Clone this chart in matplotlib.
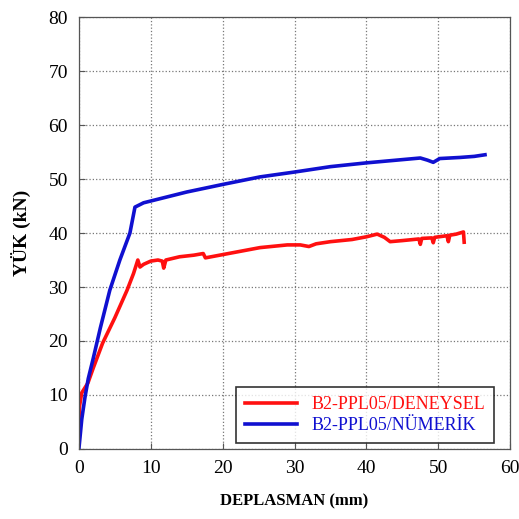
import matplotlib.pyplot as plt

plt.rcParams['font.family'] = ['Liberation Serif', 'DejaVu Serif']

# Measured load-displacement curve (experiment)
deney_x = [0, 0.1, 0.4, 1.25, 2.0, 3.3, 5.0, 6.7, 7.6, 8.2, 8.5, 9.0, 10.0, 11.0, 11.6, 11.8, 12.1,
           14.0, 16.0, 17.3, 17.6, 20.0, 22.0, 25.2, 29.0, 30.8, 32.0, 33.0, 35.0, 38.0, 40.0, 41.5, 42.5,
           43.3, 45.0, 47.3, 47.5, 47.7, 49.1, 49.3, 49.5, 51.2, 51.4, 51.6, 52.5, 53.5, 53.6]
deney_y = [4.8, 8.0, 10.4, 12.2, 15.0, 19.6, 24.3, 29.4, 32.5, 35.0, 33.7, 34.2, 34.8, 35.0, 34.8, 33.5, 35.0,
           35.6, 35.9, 36.2, 35.4, 36.0, 36.5, 37.3, 37.8, 37.8, 37.5, 38.0, 38.4, 38.8, 39.3, 39.8, 39.2,
           38.4, 38.6, 38.9, 37.9, 39.0, 39.1, 38.2, 39.2, 39.5, 38.4, 39.6, 39.8, 40.2, 38.3]

# Finite element result (numeric)
numerik_x = [0, 0.4, 0.85, 1.3, 2.0, 3.0, 4.3, 5.7, 7.1, 7.8, 9.0, 12.0, 15.0, 20.0, 25.2, 30.0,
             35.0, 40.0, 45.0, 47.5, 48.5, 49.3, 50.2, 53.0, 55.0, 56.5]
numerik_y = [0, 5.5, 9.6, 13.0, 16.8, 22.5, 29.4, 35.0, 40.0, 44.8, 45.6, 46.6, 47.6, 49.0, 50.4, 51.3,
             52.3, 53.0, 53.6, 53.9, 53.5, 53.1, 53.8, 54.0, 54.2, 54.5]

fig = plt.figure(figsize=(5.19, 5.19), dpi=100)
ax = fig.add_axes([0.152, 0.135, 0.831, 0.832])

ax.plot(deney_x, deney_y, color='#ff1010', lw=2.6, label='B2-PPL05/DENEYSEL', solid_joinstyle='round')
ax.plot(numerik_x, numerik_y, color='#1010d0', lw=2.6, label='B2-PPL05/NÜMERİK', solid_joinstyle='round')

ax.set_xlim(0, 60)
ax.set_ylim(0, 80)
ax.set_xticks(range(0, 61, 10))
ax.set_yticks(range(0, 81, 10))
ax.grid(True, linestyle=':', color='#777777', linewidth=0.9)
ax.tick_params(direction='in', labelsize=14, length=4, color='#555555', pad=8)
for s in ax.spines.values():
    s.set_color('#555555')
    s.set_linewidth(0.9)

ax.set_xlabel('DEPLASMAN (mm)', fontsize=12, fontweight='bold', labelpad=12)
ax.set_ylabel('YÜK (kN)', fontsize=14, fontweight='bold', labelpad=12)

leg = ax.legend(loc='lower right', fontsize=13, frameon=True, fancybox=False,
                edgecolor='black', handlelength=2.9, borderpad=0.5, labelspacing=0.2,
                borderaxespad=0, bbox_to_anchor=(0.963, 0.014))
leg.get_frame().set_linewidth(1.2)
for txt, c in zip(leg.get_texts(), ['#ff1010', '#1010d0']):
    txt.set_color(c)

fig.savefig('out.png', dpi=100)
